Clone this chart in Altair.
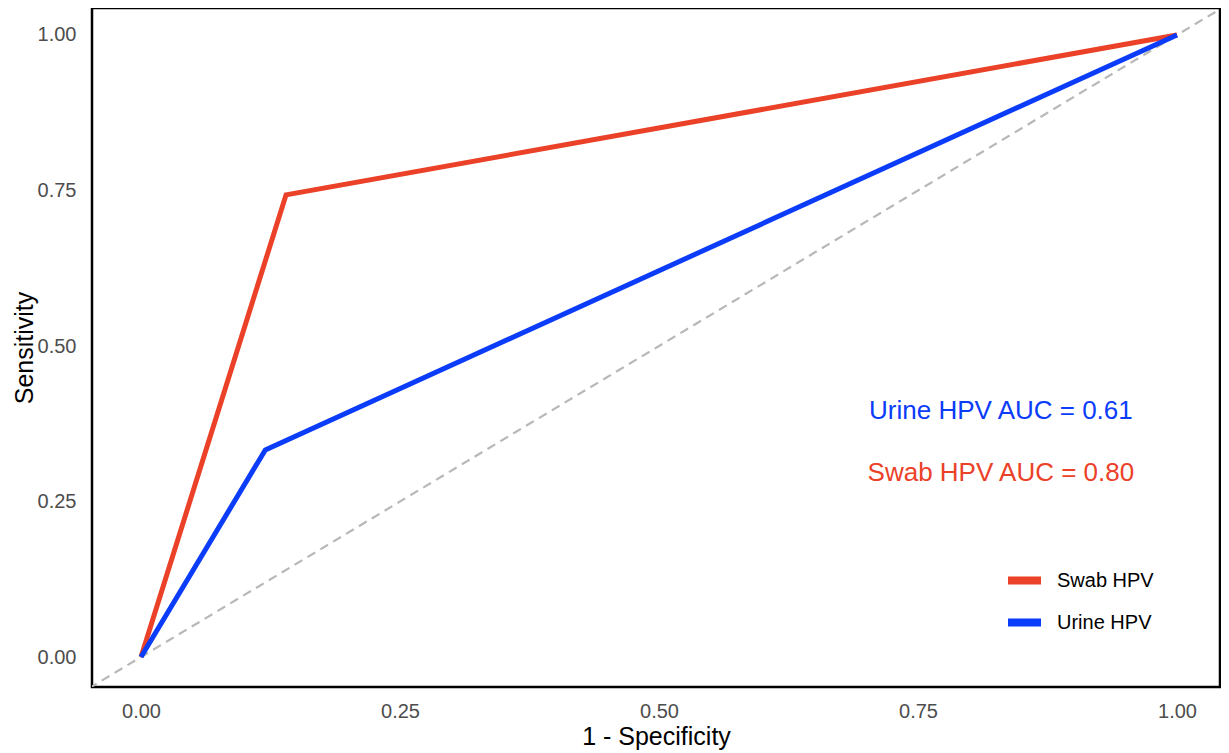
import altair as alt
import pandas as pd

# ROC curve points
series = ["Swab HPV", "Swab HPV", "Swab HPV", "Urine HPV", "Urine HPV", "Urine HPV"]
fpr = [0.0, 0.14, 1.0, 0.0, 0.12, 1.0]
sens = [0.0, 0.743, 1.0, 0.0, 0.333, 1.0]
order = [0, 1, 2, 0, 1, 2]

diag_vals = [-0.1, 1.1]

ann_text = ["Urine HPV AUC = 0.61", "Swab HPV AUC = 0.80"]
ann_series = ["Urine HPV", "Swab HPV"]
ann_x = [0.83, 0.83]
ann_y = [0.4, 0.3]

tick_vals = [0.0, 0.25, 0.5, 0.75, 1.0]
colors_domain = ["Swab HPV", "Urine HPV"]
colors_range = ["#EB4128", "#0A3CFA"]

FONT = "Liberation Sans"

roc = pd.DataFrame({"series": series, "fpr": fpr, "sens": sens, "ord": order})
diag = pd.DataFrame({"x": diag_vals, "y": diag_vals})
ann = pd.DataFrame({"text": ann_text, "series": ann_series, "x": ann_x, "y": ann_y})

xscale = alt.Scale(domain=[-0.0473, 1.0415], nice=False, zero=False)
yscale = alt.Scale(domain=[-0.0482, 1.0434], nice=False, zero=False)

xaxis = alt.Axis(
    title="1 - Specificity", values=tick_vals, format=".2f", grid=False, ticks=False,
    domain=False, labelFontSize=20, labelColor="#4D4D4D", labelPadding=14,
    titleFontSize=25, titleFontWeight="normal", titleColor="black",
    titleBaseline="alphabetic", titleY=57, labelFont=FONT, titleFont=FONT,
)
yaxis = alt.Axis(
    title="Sensitivity", values=tick_vals, format=".2f", grid=False, ticks=False,
    domain=False, labelFontSize=20, labelColor="#4D4D4D", labelPadding=16,
    titleFontSize=25, titleFontWeight="normal", titleColor="black",
    titleBaseline="alphabetic", titleX=-60, labelFont=FONT, titleFont=FONT,
)

diag_layer = alt.Chart(diag).mark_line(
    color="#B8B8B8", strokeWidth=2.2, strokeDash=[9, 6], clip=True
).encode(
    x=alt.X("x:Q", scale=xscale, axis=xaxis),
    y=alt.Y("y:Q", scale=yscale, axis=yaxis),
)

roc_layer = alt.Chart(roc).mark_line(strokeWidth=5, clip=True).encode(
    x=alt.X("fpr:Q", scale=xscale),
    y=alt.Y("sens:Q", scale=yscale),
    order="ord:Q",
    color=alt.Color(
        "series:N",
        scale=alt.Scale(domain=colors_domain, range=colors_range),
        legend=alt.Legend(
            title=None, orient="none", legendX=912, legendY=552, symbolType="stroke",
            symbolSize=1089, symbolStrokeWidth=8, labelFontSize=20, labelFont=FONT,
            labelColor="black", labelOffset=12, rowPadding=5, padding=0,
        ),
    ),
)

ann_layer = alt.Chart(ann).mark_text(
    fontSize=26, font=FONT, align="center", baseline="middle", dy=3
).encode(
    x=alt.X("x:Q", scale=xscale),
    y=alt.Y("y:Q", scale=yscale),
    text="text:N",
    color=alt.Color("series:N", scale=alt.Scale(domain=colors_domain, range=colors_range), legend=None),
)

chart = alt.layer(diag_layer, roc_layer, ann_layer).properties(
    width=1128, height=679,
    background="white",
    autosize=alt.AutoSizeParams(type="none"),
    padding={"left": 84, "top": 0, "right": 1, "bottom": 65},
).configure_view(
    stroke="black", strokeWidth=2.5
)

chart.save("out.html", embed_options={"renderer": "svg", "actions": False})
